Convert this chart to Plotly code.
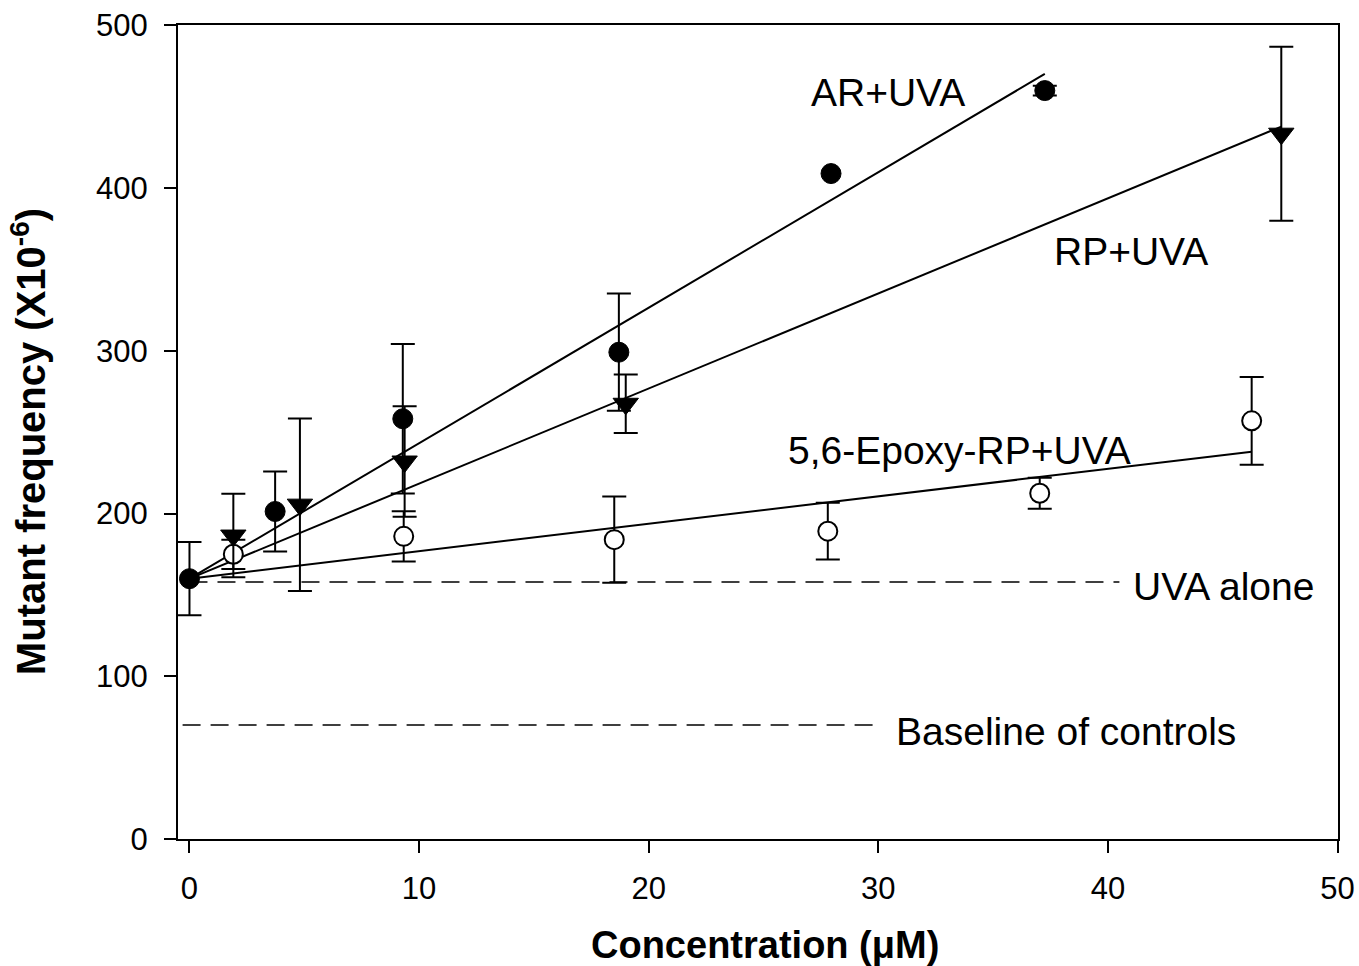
import numpy as np
import plotly.graph_objects as go

# ---- data ----
ar_x = [0, 3.73, 9.29, 18.7, 27.94, 37.25]
ar_y = [160, 201.3, 258.3, 299.2, 409, 460]
ar_err = [22.5, 24.6, 46, 36, None, 3]

rp_x = [1.91, 4.81, 9.37, 19.0, 47.55]
rp_y = [186.5, 205.5, 232, 267.5, 433.5]
rp_err = [25.7, 53, 34, 18, 53.5]

ep_x = [1.91, 9.33, 18.5, 27.8, 37.03, 46.26]
ep_y = [175, 186, 184, 189.2, 212.5, 257]
ep_err = [9, 15.5, 26.5, 17.4, 9.5, 27]

control_x = 0
control_y = 160
uva_alone = 158
uva_alone_end = 40.5
baseline_controls = 70
baseline_start = -0.3
baseline_end = 30.0

labels = ["AR+UVA", "RP+UVA", "5,6-Epoxy-RP+UVA", "UVA alone", "Baseline of controls"]
label_x = [27.0, 37.55, 26.0, 41.0, 30.7]
label_y = [459, 361, 239, 155.5, 66]

x_title = "Concentration (\u03bcM)"
y_title = "Mutant frequency (X10<sup>-6</sup>)"

x_ticks = [0, 10, 20, 30, 40, 50]
y_ticks = [0, 100, 200, 300, 400, 500]

FONT = "Liberation Sans, Arial, Helvetica, sans-serif"

def fit_through_control(xs, ys):
    xs = np.asarray(xs, float)
    ys = np.asarray(ys, float)
    dx = xs - control_x
    slope = np.sum(dx * (ys - control_y)) / np.sum(dx * dx)
    xe = np.array([control_x, xs.max()])
    return xe, control_y + slope * (xe - control_x)

fig = go.Figure()

# regression lines
for xs, ys in [(ar_x, ar_y), (rp_x, rp_y), (ep_x, ep_y)]:
    lx, ly = fit_through_control(xs, ys)
    fig.add_trace(go.Scatter(x=lx, y=ly, mode="lines",
                             line=dict(color="black", width=2), hoverinfo="skip"))

# dashed reference lines
fig.add_trace(go.Scatter(x=[control_x, uva_alone_end], y=[uva_alone, uva_alone], mode="lines",
                         line=dict(color="black", width=1.5, dash="18px,10px")))
fig.add_trace(go.Scatter(x=[baseline_start, baseline_end], y=[baseline_controls, baseline_controls],
                         mode="lines", line=dict(color="black", width=1.5, dash="18px,10px")))

def add_series(xs, ys, errs, marker):
    keep = [i for i, e in enumerate(errs) if e is not None]
    # error bars (only where an error exists)
    fig.add_trace(go.Scatter(x=[xs[i] for i in keep], y=[ys[i] for i in keep], mode="markers",
                             marker=dict(size=1, opacity=0), hoverinfo="skip",
                             error_y=dict(type="data", array=[errs[i] for i in keep], visible=True,
                                          color="black", thickness=2, width=12)))
    fig.add_trace(go.Scatter(x=xs, y=ys, mode="markers", marker=marker))

add_series(ep_x, ep_y, ep_err, dict(symbol="circle", size=19, color="white",
                                    line=dict(color="black", width=2)))
add_series(rp_x, rp_y, rp_err, dict(symbol="triangle-down", size=22, color="black",
                                    line=dict(color="black", width=1)))
add_series(ar_x, ar_y, ar_err, dict(symbol="circle", size=20, color="black",
                                    line=dict(color="black", width=1)))

for t, lx, ly in zip(labels, label_x, label_y):
    fig.add_annotation(x=lx, y=ly, text=t, showarrow=False, xanchor="left", yanchor="middle",
                       font=dict(family=FONT, size=39, color="black"))

# axis titles as paper-positioned annotations
fig.add_annotation(xref="paper", yref="paper", x=0.506, y=-0.130, text="<b>" + x_title + "</b>",
                   showarrow=False, xanchor="center", yanchor="middle",
                   font=dict(family=FONT, size=38, color="black"))
fig.add_annotation(xref="paper", yref="paper", x=-0.129, y=0.488, text="<b>" + y_title + "</b>",
                   showarrow=False, xanchor="center", yanchor="middle", textangle=-90,
                   font=dict(family=FONT, size=40, color="black"))

axis_common = dict(showline=True, linecolor="black", linewidth=2, mirror=True,
                   ticks="outside", ticklen=12, tickwidth=2, tickcolor="black",
                   showgrid=False, zeroline=False, automargin=False,
                   tickfont=dict(family=FONT, size=31, color="black"))

fig.update_xaxes(range=[-0.5, 50.02], tickvals=x_ticks, ticktext=[str(v) for v in x_ticks],
                 ticklabelstandoff=9, **axis_common)
fig.update_yaxes(range=[0, 500.3], tickvals=y_ticks, ticktext=[str(v) for v in y_ticks],
                 ticklabelstandoff=10, **axis_common)

fig.update_layout(width=1359, height=966, showlegend=False,
                  plot_bgcolor="white", paper_bgcolor="white",
                  margin=dict(l=178, r=21, t=25, b=127, autoexpand=False))

fig.write_html("out.html", config={"displayModeBar": False},
               post_script="document.body.style.margin='0px';")
